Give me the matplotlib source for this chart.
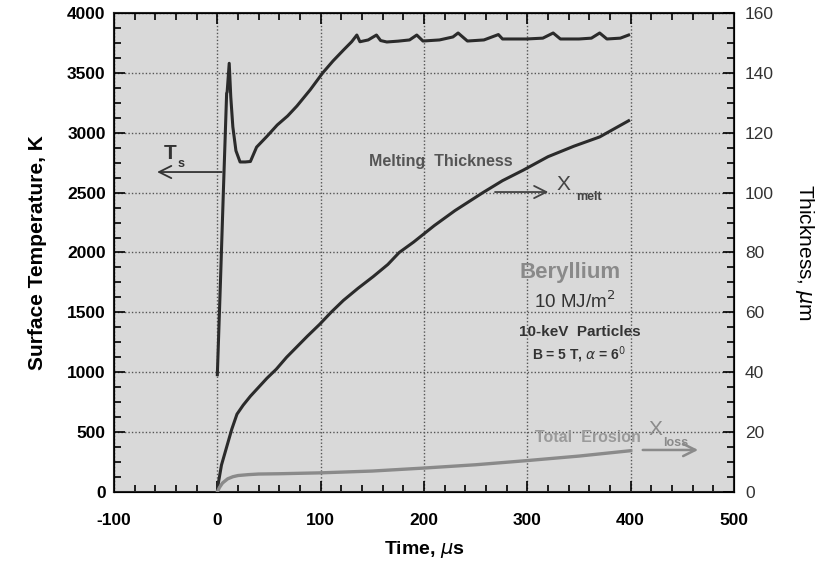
import matplotlib
matplotlib.use("Agg")
import matplotlib.pyplot as plt
from matplotlib.ticker import MultipleLocator

plt.rcParams['font.family'] = ['Liberation Sans', 'DejaVu Sans']
plt.rcParams['axes.unicode_minus'] = False

# Surface temperature (K) vs time (us)
ts_time = [0, 3, 6, 9, 9.5, 11.5, 13, 15, 18, 22, 27, 32, 38, 48, 58, 68, 77, 90, 102, 112, 122, 130, 135,
           138, 146, 154, 158, 164, 175, 186, 193, 199, 215, 228, 233, 242, 258, 272, 276, 290, 299, 315,
           325, 332, 350, 362, 370, 377, 390, 398]
ts_temp = [980, 1750, 2550, 3330, 3340, 3580, 3300, 3050, 2850, 2756, 2756, 2760, 2880, 2970, 3065, 3140,
           3223, 3360, 3500, 3600, 3690, 3760, 3816, 3760, 3775, 3816, 3770, 3758, 3765, 3775, 3816, 3766,
           3775, 3800, 3833, 3766, 3775, 3820, 3783, 3783, 3783, 3790, 3833, 3783, 3783, 3790, 3833, 3783,
           3790, 3816]

# Melting thickness (um) vs time (us)
melt_time = [0, 1, 4, 9, 14, 19, 25, 32, 40, 48, 57, 67, 77, 87, 99, 110, 122, 136, 151, 165, 176, 190,
             210, 230, 257, 276, 296, 320, 345, 370, 385, 398]
melt_um = [0, 3, 9, 15, 21, 26, 29, 32, 35, 38, 41, 45, 48.5, 52, 56, 60, 64, 68, 72, 76, 80, 83.5,
           89, 94, 100, 104, 107.5, 112, 115.5, 118.6, 121.5, 124]

# Total erosion (um) vs time (us)
eros_time = [0, 2, 5, 10, 15, 20, 30, 40, 60, 100, 150, 200, 250, 300, 350, 400]
eros_um = [0, 1.5, 3, 4.4, 5.1, 5.5, 5.8, 6.0, 6.1, 6.4, 7.0, 8.0, 9.1, 10.5, 12.0, 13.8]

xticks = [-100, 0, 100, 200, 300, 400, 500]
yticks_left = [0, 500, 1000, 1500, 2000, 2500, 3000, 3500, 4000]
yticks_right = [0, 20, 40, 60, 80, 100, 120, 140, 160]

fig = plt.figure(figsize=(8.15, 5.61), dpi=100)
ax = fig.add_axes([114/815, 1-492/561, 620/815, 479/561])
ax.set_facecolor('#d9d9d9')
ax.set_xlim(-100, 500)
ax.set_ylim(0, 4000)
ax.set_xticks(xticks)
ax.set_yticks(yticks_left)
ax.xaxis.set_minor_locator(MultipleLocator(20))
ax.yaxis.set_minor_locator(MultipleLocator(125))
ax.tick_params(which='both', direction='in', top=True, right=False, width=1.2)
ax.tick_params(which='major', length=8)
ax.tick_params(which='minor', length=5)
ax.tick_params(axis='x', pad=15)
ax.tick_params(axis='y', pad=6)
for lab in ax.get_xticklabels() + ax.get_yticklabels():
    lab.set_fontweight('bold')
    lab.set_fontsize(12.5)
for sp in ax.spines.values():
    sp.set_linewidth(1.5)
    sp.set_color('#222222')
ax.grid(True, which='major', linestyle=(0, (1, 1.5)), color='#555555', linewidth=1.0)
ax.set_axisbelow(True)

ax2 = ax.twinx()
ax2.set_ylim(0, 160)
ax2.set_yticks(yticks_right)
ax2.yaxis.set_minor_locator(MultipleLocator(5))
ax2.tick_params(which='both', direction='in', width=1.2, labelsize=12.5, labelcolor='#333333', pad=8)
ax2.tick_params(which='major', length=8)
ax2.tick_params(which='minor', length=5)

ax.plot(ts_time, ts_temp, color='#2b2b2b', linewidth=2.2, zorder=3)
ax2.plot(melt_time, melt_um, color='#2b2b2b', linewidth=2.2, zorder=3)
ax2.plot(eros_time, eros_um, color='#8a8a8a', linewidth=2.4, zorder=3)

ax.set_ylabel('Surface Temperature, K', fontsize=15, fontweight='bold', labelpad=14)
ax.set_xlabel('Time, $\\mu$s', fontsize=14, fontweight='bold', labelpad=8)
ax2.set_ylabel('Thickness, $\\mu$m', fontsize=15, rotation=-90, labelpad=30)

# annotations
ax.annotate('', xy=(-61, 2672), xytext=(7, 2672),
            arrowprops=dict(arrowstyle='->', color='#333333', lw=1.3, mutation_scale=22))
ax.text(-46, 2830, 'T', fontsize=15, color='#333333', ha='center', va='center', fontweight='bold')
ax.text(-35, 2740, 's', fontsize=9, color='#333333', ha='center', va='center', fontweight='bold')

ax.text(216, 2756, 'Melting  Thickness', fontsize=11.5, color='#555555', ha='center', va='center',
        fontweight='bold')
ax.annotate('', xy=(323, 2505), xytext=(266, 2505),
            arrowprops=dict(arrowstyle='->', color='#444444', lw=1.3, mutation_scale=22))
ax.text(335, 2570, 'X', fontsize=15, color='#444444', ha='center', va='center')
ax.text(360, 2460, 'melt', fontsize=9, color='#444444', ha='center', va='center', fontweight='bold')

ax.text(341, 1837, 'Beryllium', fontsize=16, color='#8a8a8a', ha='center', va='center', fontweight='bold')
ax.text(346, 1590, '10 MJ/m$^{2}$', fontsize=13.5, color='#333333', ha='center', va='center')
ax.text(351, 1336, '10-keV  Particles', fontsize=11, color='#333333', ha='center', va='center',
        fontweight='bold')
ax.text(350, 1144, 'B = 5 T, $\\alpha$ = 6$^{0}$', fontsize=10, color='#333333', ha='center', va='center',
        fontweight='bold')

ax.text(359, 451, 'Total  Erosion', fontsize=11.5, color='#9a9a9a', ha='center', va='center',
        fontweight='bold')
ax.annotate('', xy=(468, 351), xytext=(409, 351),
            arrowprops=dict(arrowstyle='->', color='#8a8a8a', lw=1.8, mutation_scale=22))
ax.text(424, 520, 'X', fontsize=15, color='#8a8a8a', ha='center', va='center')
ax.text(444, 410, 'loss', fontsize=9, color='#8a8a8a', ha='center', va='center', fontweight='bold')

fig.savefig('out.png', dpi=100, facecolor='white')
